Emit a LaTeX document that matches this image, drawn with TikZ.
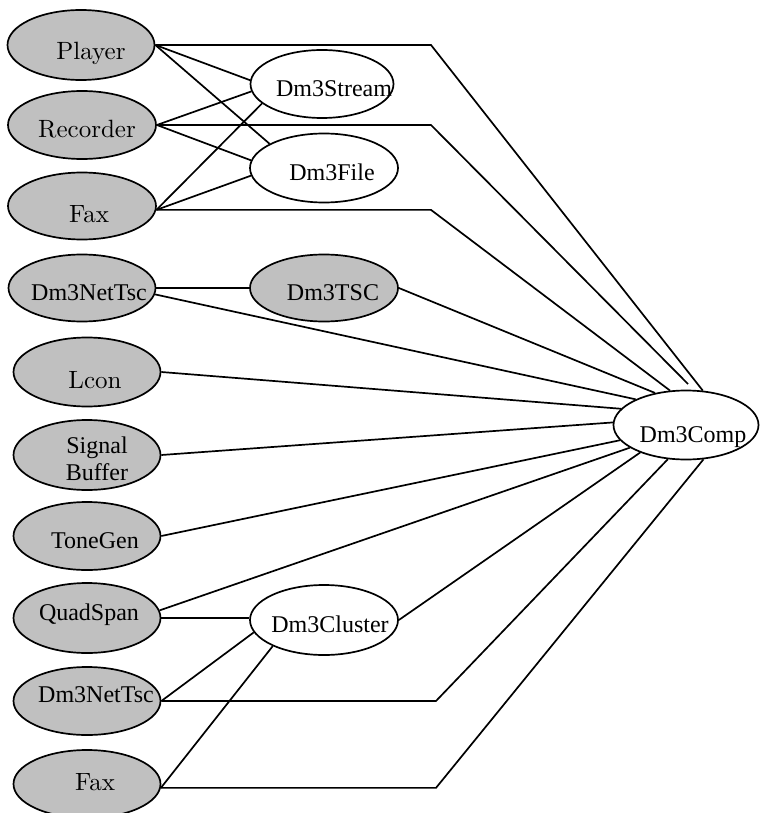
\documentclass[tikz,border=0pt]{standalone}
\usepackage{fontspec}
\newfontfamily\timesf{Liberation Serif}
\newfontfamily\lmten{lmroman10-regular}[Extension=.otf]
\usetikzlibrary{shapes.geometric}

\definecolor{grey}{HTML}{C0C0C0}
\tikzset{
  comp/.style={ellipse, draw=black, line width=1.7pt, inner sep=0pt,
    minimum width=147pt, minimum height=69pt},
  greybox/.style={comp, fill=grey},
  whitebox/.style={comp, fill=white},
  lmtext/.style={font=\lmten\fontsize{25}{30}\selectfont, inner sep=0pt, anchor=base},
  tmtext/.style={font=\timesf\fontsize{24}{27}\selectfont, inner sep=0pt, anchor=base},
  link/.style={draw=black, line width=1.7pt, line join=miter}
}

\begin{document}
\begin{tikzpicture}[x=1pt, y=-1pt]
\useasboundingbox (0,0) rectangle (760,813);

% x positions where the long connectors turn towards Dm3Comp
\coordinate (bendtop) at (431,0);
\coordinate (bendbot) at (436,0);

% ---- component ellipses ----
\node[greybox, minimum width=147pt, minimum height=70pt] (player) at (81,45) {};
\node[greybox, minimum width=148pt, minimum height=68pt] (recorder) at (82,125) {};
\node[greybox, minimum width=148pt, minimum height=67pt] (faxa) at (82,206) {};
\node[greybox, minimum width=147pt, minimum height=67pt] (neta) at (82,288) {};
\node[greybox, minimum width=147pt, minimum height=69pt] (lcon) at (87,372) {};
\node[greybox, minimum width=147pt, minimum height=70pt] (signal) at (87,455) {};
\node[greybox, minimum width=147pt, minimum height=68pt] (tone) at (87,536) {};
\node[greybox, minimum width=147pt, minimum height=70pt] (quad) at (87,618) {};
\node[greybox, minimum width=147pt, minimum height=68pt] (netb) at (87,701) {};
\node[greybox, minimum width=147pt, minimum height=68pt] (faxb) at (87,784) {};

\node[whitebox, minimum width=143pt, minimum height=68pt] (stream) at (322,84) {};
\node[whitebox, minimum width=148pt, minimum height=69pt] (file) at (324,168) {};
\node[greybox, minimum width=148pt, minimum height=67pt] (tsc) at (324,288) {};
\node[whitebox, minimum width=148pt, minimum height=70pt] (cluster) at (324,620) {};
\node[whitebox, minimum width=145pt, minimum height=69pt] (dmcomp) at (686,425) {};

% free end of the Recorder link, just above Dm3Comp
\coordinate (recend) at (688,384);

% ---- connectors ----
\draw[link] (player.east) -- (player.east -| bendtop) -- (dmcomp.64);
\draw[link] (player.east) -- (stream.177);
\draw[link] (player.east) -- (file.156);

\draw[link] (recorder.east) -- (recorder.east -| bendtop) -- (recend);
\draw[link] (recorder.east) -- (stream.186);
\draw[link] (recorder.east) -- (file.174);

\draw[link] (faxa.-3) -- (faxa.-3 -| bendtop) -- (dmcomp.115);
\draw[link] (faxa.-3) -- (stream.198);
\draw[link] (faxa.-3) -- (file.186);

\draw[link] (neta.east) -- (neta.east -| tsc.west);
\draw[link] (neta.-5) -- (dmcomp.153);
\draw[link] (tsc.east) -- (dmcomp.134);

\draw[link] (lcon.east) -- (dmcomp.166);
\draw[link] (signal.east) -- (dmcomp.178);
\draw[link] (tone.east) -- (dmcomp.193);

\draw[link] (quad.6) -- (dmcomp.202);
\draw[link] (quad.east) -- (quad.east -| cluster.west);
\draw[link] (cluster.east) -- (dmcomp.211);

\draw[link] (netb.east) -- (cluster.190);
\draw[link] (netb.east) -- (netb.east -| bendbot) -- (dmcomp.242);

\draw[link] (faxb.-3) -- (cluster.207);
\draw[link] (faxb.-3) -- (faxb.-3 -| bendbot) -- (dmcomp.297);

% ---- labels (placed on their baselines) ----
\node[lmtext] (playertxt) at (91,60) {Player};
\node[lmtext] (recordertxt) at (87,138) {Recorder};
\node[lmtext] (faxatxt) at (89,222) {Fax};
\node[tmtext] (netatxt) at (89,300) {Dm3NetTsc};
\node[lmtext] (lcontxt) at (95,388) {Lcon};
\node[tmtext] (signaltxt) at (97,453) {Signal};
\node[tmtext] (buffertxt) at (97,480) {Buffer};
\node[tmtext] (tonetxt) at (95,548) {ToneGen};
\node[tmtext] (quadtxt) at (89,620) {QuadSpan};
\node[tmtext] (netbtxt) at (96,702) {Dm3NetTsc};
\node[lmtext] (faxbtxt) at (95,790) {Fax};

\node[tmtext] (streamtxt) at (334,97) {Dm3Stream};
\node[tmtext] (filetxt) at (332,180) {Dm3File};
\node[tmtext] (tsctxt) at (333,300) {Dm3TSC};
\node[tmtext] (clustertxt) at (330,632) {Dm3Cluster};
\node[tmtext] (dmcomptxt) at (693,442) {Dm3Comp};

\end{tikzpicture}
\end{document}
